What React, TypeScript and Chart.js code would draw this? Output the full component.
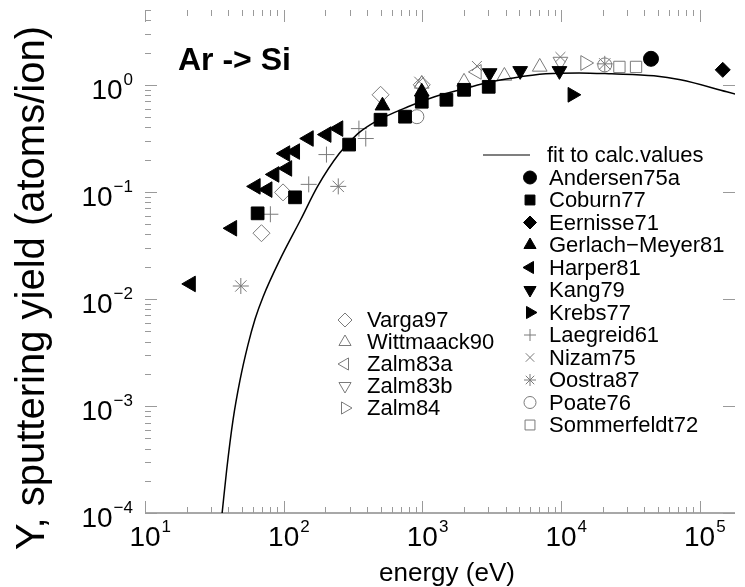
import React, { useEffect, useRef } from 'react';
import { Chart, registerables } from 'chart.js';
import { drawPoint } from 'chart.js/helpers';

Chart.register(...registerables);

// ---------- data (energy in eV, yield in atoms/ion) ----------
const fitE = [36.0, 38.8, 43.1, 48.4, 55.1, 62.3, 71.0, 92.9, 133.1, 175.7, 251.7, 343, 460, 788, 1227, 2000, 3110, 4530, 7770, 13500, 23200, 46800, 72800, 157000, 228000];
const fitY = [1.0e-4, 2.51e-4, 7.33e-4, 1.73e-3, 3.66e-3, 6.52e-3, 0.01044, 0.02256, 0.0555, 0.1125, 0.228, 0.35, 0.453, 0.624, 0.773, 0.918, 1.066, 1.16, 1.266, 1.293, 1.266, 1.213, 1.113, 0.861, 0.757];

const andersenE = [44600];
const andersenY = [1.75];
const coburnE = [64.9, 120.8, 296.6, 500, 751, 991, 1492, 2000, 3013];
const coburnY = [0.063, 0.0889, 0.2765, 0.472, 0.504, 0.695, 0.725, 0.898, 0.958];
const eernisseE = [146900];
const eernisseY = [1.38];
const gerlachE = [516, 991];
const gerlachY = [0.638, 0.861];
const harperE = [21.4, 42.5, 62.8, 76.4, 85.7, 106, 102.6, 120.8, 151.6, 203.6, 247.7];
const harperY = [0.0138, 0.0457, 0.1125, 0.105, 0.1455, 0.1655, 0.228, 0.238, 0.315, 0.343, 0.39];
const kangE = [3060, 5080, 9750];
const kangY = [1.29, 1.35, 1.35];
const krebsE = [12080];
const krebsY = [0.807];
const laegreidE = [80.2, 151.6, 203.6, 349, 391];
const laegreidY = [0.0618, 0.1175, 0.223, 0.39, 0.315];
const nizamE = [950, 2477, 9910];
const nizamY = [1.07, 1.5, 1.82];
const oostraE = [49.1, 247.7, 20700];
const oostraY = [0.0132, 0.1125, 1.57];
const poateE = [914, 20700];
const poateY = [0.504, 1.535];
const sommerE = [26400, 34800];
const sommerY = [1.47, 1.47];
const vargaE = [69.2, 99, 500, 991];
const vargaY = [0.0411, 0.0989, 0.807, 1.0];
const wittE = [991, 2000, 3908, 7030];
const wittY = [1.02, 1.066, 1.21, 1.47];
const zalm83aE = [2477];
const zalm83aY = [1.32];
const zalm83bE = [9910];
const zalm83bY = [1.65];
const zalm84E = [14930];
const zalm84Y = [1.6];

const xExponents = [1, 2, 3, 4, 5];
const yExponents = [0, -1, -2, -3, -4];

const titleText = 'Ar -> Si';
const xTitle = 'energy (eV)';
const yTitle = 'Y, sputtering yield (atoms/ion)';
const fitLabel = 'fit to calc.values';

// ---------- styles ----------
const BLACK = '#000000';
const GRAY = '#7a7a7a';
const NONE = 'rgba(0,0,0,0)';
const FONT = '"Liberation Sans", Arial, Helvetica, sans-serif';

type Series = {
  label: string;
  e: number[];
  y: number[];
  style: string;
  rot: number;
  filled: boolean;
  r: number;
  lr: number;
  legend: 'right' | 'left';
};

const series: Series[] = [
  { label: 'Andersen75a', e: andersenE, y: andersenY, style: 'circle', rot: 0, filled: true, r: 7.5, lr: 6.5, legend: 'right' },
  { label: 'Coburn77', e: coburnE, y: coburnY, style: 'rect', rot: 0, filled: true, r: 9, lr: 7, legend: 'right' },
  { label: 'Eernisse71', e: eernisseE, y: eernisseY, style: 'rectRot', rot: 0, filled: true, r: 7.5, lr: 6.5, legend: 'right' },
  { label: 'Gerlach\u2212Meyer81', e: gerlachE, y: gerlachY, style: 'triangle', rot: 0, filled: true, r: 8.5, lr: 7, legend: 'right' },
  { label: 'Harper81', e: harperE, y: harperY, style: 'triangle', rot: 270, filled: true, r: 9, lr: 7, legend: 'right' },
  { label: 'Kang79', e: kangE, y: kangY, style: 'triangle', rot: 180, filled: true, r: 8.5, lr: 7, legend: 'right' },
  { label: 'Krebs77', e: krebsE, y: krebsY, style: 'triangle', rot: 90, filled: true, r: 8.5, lr: 7, legend: 'right' },
  { label: 'Laegreid61', e: laegreidE, y: laegreidY, style: 'cross', rot: 0, filled: false, r: 8, lr: 6, legend: 'right' },
  { label: 'Nizam75', e: nizamE, y: nizamY, style: 'crossRot', rot: 0, filled: false, r: 7, lr: 6, legend: 'right' },
  { label: 'Oostra87', e: oostraE, y: oostraY, style: 'star', rot: 0, filled: false, r: 8, lr: 6, legend: 'right' },
  { label: 'Poate76', e: poateE, y: poateY, style: 'circle', rot: 0, filled: false, r: 7, lr: 6, legend: 'right' },
  { label: 'Sommerfeldt72', e: sommerE, y: sommerY, style: 'rect', rot: 0, filled: false, r: 8, lr: 7, legend: 'right' },
  { label: 'Varga97', e: vargaE, y: vargaY, style: 'rectRot', rot: 0, filled: false, r: 8.5, lr: 7, legend: 'left' },
  { label: 'Wittmaack90', e: wittE, y: wittY, style: 'triangle', rot: 0, filled: false, r: 8.5, lr: 7, legend: 'left' },
  { label: 'Zalm83a', e: zalm83aE, y: zalm83aY, style: 'triangle', rot: 270, filled: false, r: 8.5, lr: 7, legend: 'left' },
  { label: 'Zalm83b', e: zalm83bE, y: zalm83bY, style: 'triangle', rot: 180, filled: false, r: 8.5, lr: 7, legend: 'left' },
  { label: 'Zalm84', e: zalm84E, y: zalm84Y, style: 'triangle', rot: 90, filled: false, r: 8.5, lr: 7, legend: 'left' },
];

function drawPow(ctx: CanvasRenderingContext2D, exp: number, x: number, y: number, mode: 'center' | 'right') {
  const base = '10';
  const sup = exp < 0 ? '\u2212' + Math.abs(exp) : String(exp);
  ctx.font = `28px ${FONT}`;
  const wb = ctx.measureText(base).width;
  ctx.font = `17px ${FONT}`;
  const ws = ctx.measureText(sup).width;
  let left: number;
  if (mode === 'center') left = x - wb / 2;
  else left = x - ws - 1 - wb;
  ctx.fillStyle = BLACK;
  ctx.textAlign = 'left';
  ctx.textBaseline = 'alphabetic';
  ctx.font = `28px ${FONT}`;
  ctx.fillText(base, left, y);
  ctx.font = `17px ${FONT}`;
  ctx.fillText(sup, left + wb + 1, y - 14);
}

const decor = {
  id: 'decor',
  beforeDatasetsDraw(chart: any) {
    const { ctx, chartArea: a, scales } = chart;
    const xs = scales.x;
    const ys = scales.y;
    ctx.save();
    // bottom axis line
    ctx.strokeStyle = '#a8a8a8';
    ctx.lineWidth = 2;
    ctx.beginPath();
    ctx.moveTo(a.left, a.bottom);
    ctx.lineTo(a.right, a.bottom);
    ctx.stroke();
    // ticks
    ctx.strokeStyle = '#9a9a9a';
    ctx.lineWidth = 1;
    for (let d = 1; d <= 5; d++) {
      for (let m = 1; m <= 9; m++) {
        const v = m * Math.pow(10, d);
        if (v < xs.min || v > xs.max) continue;
        const px = Math.round(xs.getPixelForValue(v)) + 0.5;
        const len = m === 1 ? 12 : 6;
        ctx.beginPath();
        ctx.moveTo(px, a.bottom);
        ctx.lineTo(px, a.bottom - len);
        ctx.moveTo(px, a.top);
        ctx.lineTo(px, a.top + len);
        ctx.stroke();
      }
    }
    for (let d = -4; d <= 0; d++) {
      for (let m = 1; m <= 9; m++) {
        const v = m * Math.pow(10, d);
        if (v < ys.min || v > ys.max) continue;
        const py = Math.round(ys.getPixelForValue(v)) + 0.5;
        const len = m === 1 ? 12 : 6;
        ctx.beginPath();
        ctx.moveTo(a.left, py);
        ctx.lineTo(a.left + len, py);
        if (m === 1) {
          ctx.moveTo(a.right, py);
          ctx.lineTo(a.right - len, py);
        }
        ctx.stroke();
      }
    }
    // tick labels
    xExponents.forEach((e) => {
      const px = xs.getPixelForValue(Math.pow(10, e));
      drawPow(ctx, e, px, 546, 'center');
    });
    yExponents.forEach((e) => {
      const py = ys.getPixelForValue(Math.pow(10, e));
      drawPow(ctx, e, 133, py + 14, 'right');
    });
    // axis titles
    ctx.fillStyle = BLACK;
    ctx.font = `26px ${FONT}`;
    ctx.textAlign = 'center';
    ctx.textBaseline = 'alphabetic';
    ctx.fillText(xTitle, 447, 581);
    ctx.save();
    ctx.translate(44, 288);
    ctx.rotate(-Math.PI / 2);
    ctx.font = `40px ${FONT}`;
    ctx.fillText(yTitle, 0, 0);
    ctx.restore();
    // inset title
    ctx.font = `bold 32px ${FONT}`;
    ctx.textAlign = 'left';
    ctx.fillText(titleText, 178, 70);
    ctx.restore();
  },
  afterDraw(chart: any) {
    const { ctx } = chart;
    ctx.save();
    ctx.font = `22px ${FONT}`;
    ctx.textBaseline = 'middle';
    ctx.textAlign = 'left';
    // right legend
    const yy = 155;
    ctx.strokeStyle = BLACK;
    ctx.lineWidth = 1.2;
    ctx.beginPath();
    ctx.moveTo(483, yy);
    ctx.lineTo(530, yy);
    ctx.stroke();
    ctx.fillStyle = BLACK;
    ctx.fillText(fitLabel, 547, yy + 1);
    const rowsR = series.filter((s) => s.legend === 'right');
    const rowsL = series.filter((s) => s.legend === 'left');
    const drawRow = (s: Series, sx: number, tx: number, y: number) => {
      ctx.fillStyle = s.filled ? BLACK : NONE;
      ctx.strokeStyle = s.filled ? BLACK : GRAY;
      ctx.lineWidth = 1;
      drawPoint(ctx, { pointStyle: s.style, rotation: s.rot, radius: s.lr, borderWidth: 1 } as any, sx, y);
      ctx.fillStyle = BLACK;
      ctx.fillText(s.label, tx, y + 1);
    };
    rowsR.forEach((s, i) => drawRow(s, 530, 549, 177.5 + i * 22.5));
    rowsL.forEach((s, i) => drawRow(s, 345, 367, 320 + i * 22));
    ctx.restore();
  },
};

export default function App() {
  const ref = useRef<HTMLCanvasElement | null>(null);
  useEffect(() => {
    if (!ref.current) return;
    const datasets: any[] = [
      {
        label: fitLabel,
        data: fitE.map((e, i) => ({ x: e, y: fitY[i] })),
        showLine: true,
        borderColor: BLACK,
        borderWidth: 1.5,
        pointRadius: 0,
        cubicInterpolationMode: 'monotone',
        order: 0,
      },
      ...series.map((s) => ({
        label: s.label,
        data: s.e.map((e, i) => ({ x: e, y: s.y[i] })),
        pointStyle: s.style,
        rotation: s.rot,
        pointRadius: s.r,
        pointBackgroundColor: s.filled ? BLACK : NONE,
        pointBorderColor: s.filled ? BLACK : GRAY,
        pointBorderWidth: 1,
        showLine: false,
        order: s.filled ? 1 : 2,
      })),
    ];
    const chart = new Chart(ref.current, {
      type: 'scatter',
      data: { datasets },
      options: {
        animation: false,
        responsive: false,
        events: [],
        layout: { padding: { left: 145, top: 8, right: 0, bottom: 74 } },
        plugins: { legend: { display: false }, tooltip: { enabled: false } },
        scales: {
          x: { type: 'logarithmic', min: 10, max: 180000, display: false },
          y: { type: 'logarithmic', min: 1e-4, max: 5, display: false },
        },
      },
      plugins: [decor],
    });
    return () => chart.destroy();
  }, []);
  return (
    <div style={{ position: 'fixed', left: 0, top: 0, width: 745, height: 587, background: '#fff' }}>
      <canvas ref={ref} width={745} height={587} style={{ display: 'block' }} />
    </div>
  );
}
